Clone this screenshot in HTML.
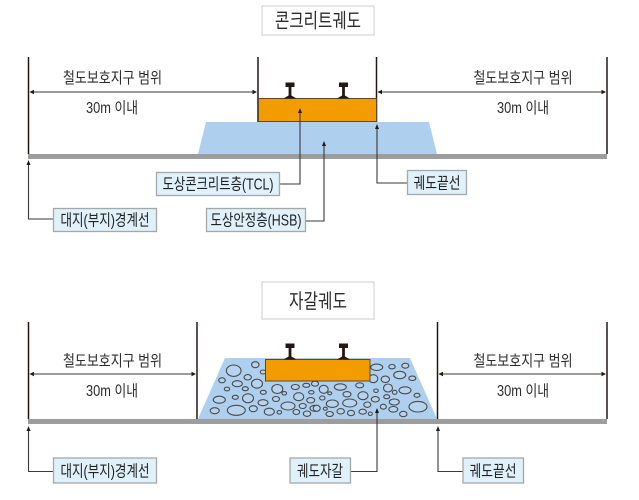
<!DOCTYPE html>
<html><head><meta charset="utf-8">
<style>
html,body{margin:0;padding:0;background:#fff;width:639px;height:500px;overflow:hidden}
svg{display:block;filter:blur(0.35px)}
text{font-family:"Liberation Sans","Noto Sans CJK KR",sans-serif;fill:#2b2b2b}
.d{font-size:15.500px;text-anchor:middle}
.l{font-size:16px;text-anchor:middle;fill:#222}
.t{font-size:20px;text-anchor:middle}
.box{fill:#e0f1fb;stroke:#a4a8a8;stroke-width:1.300}
.tb{fill:#fff;stroke:#d8d8d8;stroke-width:1.300}
.v{stroke:#231815;stroke-width:1.500}
.c{stroke:#3a3a3a;stroke-width:1.100;fill:none}
.g{fill:#9d9d9d}
.a{fill:#231815}
.s ellipse{fill:#b6d4ef;stroke:#4a4a4a;stroke-width:1.100}
</style></head><body>
<svg width="639" height="500" viewBox="0 0 639 500" xmlns="http://www.w3.org/2000/svg">
<defs>
<g id="rail"><path d="M-4.500 0H4.500V4.500H1.400V13L6.500 16H-6.500L-1.400 13V4.500H-4.500Z" fill="#231815"/></g>
</defs>

<!-- TOP -->
<rect class="tb" x="262" y="6" width="112" height="29"/>
<text class="t" x="318" y="27.500" textLength="86" lengthAdjust="spacingAndGlyphs">콘크리트궤도</text>

<rect class="g" x="28" y="154" width="579" height="5"/>
<line class="v" x1="28.500" y1="57" x2="28.500" y2="154"/>
<line class="v" x1="258" y1="57" x2="258" y2="122"/>
<line class="v" x1="376.500" y1="57" x2="376.500" y2="122"/>
<line class="v" x1="607" y1="57" x2="607" y2="154"/>

<polygon points="206,122 429,122 437,154 198,154" fill="#aecfee"/>
<rect x="258.500" y="98.500" width="118" height="23" fill="#f39c00" stroke="#5a4a2a" stroke-width="1"/>
<use href="#rail" x="290" y="82.500"/>
<use href="#rail" x="343.500" y="82.500"/>

<line class="c" x1="30" y1="92" x2="256" y2="92"/>
<line class="c" x1="378" y1="92" x2="605" y2="92"/>
<polygon class="a" points="29.500,92 34,89.800 34,94.200"/>
<polygon class="a" points="257,92 252.500,89.800 252.500,94.200"/>
<polygon class="a" points="377.500,92 382,89.800 382,94.200"/>
<polygon class="a" points="606,92 601.500,89.800 601.500,94.200"/>

<text class="d" x="112.500" y="83" textLength="99" lengthAdjust="spacingAndGlyphs">철도보호지구 범위</text>
<text class="d" x="112" y="113" textLength="52" lengthAdjust="spacingAndGlyphs">30m 이내</text>
<text class="d" x="523" y="83" textLength="99" lengthAdjust="spacingAndGlyphs">철도보호지구 범위</text>
<text class="d" x="523" y="113" textLength="52" lengthAdjust="spacingAndGlyphs">30m 이내</text>

<path class="c" d="M28.500 162V219H53"/>
<polygon class="a" points="28.500,160 26.500,165 30.500,165"/>
<path class="c" d="M280 184H300V110"/>
<polygon class="a" points="300,108 298,113 302,113"/>
<path class="c" d="M306 221H324V143"/>
<polygon class="a" points="324,141 322,146 326,146"/>
<path class="c" d="M407 183H377V126"/>
<polygon class="a" points="377,124 375,129 379,129"/>

<rect class="box" x="53.500" y="208.500" width="103" height="23"/>
<text class="l" x="105" y="225.500" textLength="89" lengthAdjust="spacingAndGlyphs">대지(부지)경계선</text>
<rect class="box" x="156.500" y="172.500" width="123" height="23"/>
<text class="l" x="218" y="189.500" textLength="111" lengthAdjust="spacingAndGlyphs">도상콘크리트층(TCL)</text>
<rect class="box" x="206.500" y="208.500" width="99" height="23"/>
<text class="l" x="256" y="225.500" textLength="91" lengthAdjust="spacingAndGlyphs">도상안정층(HSB)</text>
<rect class="box" x="407.500" y="170.500" width="59" height="24"/>
<text class="l" x="437" y="188.500" textLength="47" lengthAdjust="spacingAndGlyphs">궤도끝선</text>

<!-- BOTTOM -->
<rect class="tb" x="262" y="282" width="112" height="37"/>
<text class="t" x="318" y="308" textLength="58" lengthAdjust="spacingAndGlyphs">자갈궤도</text>

<rect class="g" x="28" y="419" width="579" height="5"/>
<line class="v" x1="28.500" y1="322" x2="28.500" y2="419"/>
<line class="v" x1="197" y1="322" x2="197" y2="419"/>
<line class="v" x1="437.500" y1="322" x2="437.500" y2="419"/>
<line class="v" x1="607" y1="322" x2="607" y2="419"/>

<polygon points="225,358 410,358 437,419 198,419" fill="#aecfee"/>
<g class="s">
<ellipse cx="233.700" cy="370.700" rx="7.300" ry="5.700"/><ellipse cx="255.300" cy="364.700" rx="3.700" ry="3"/><ellipse cx="263" cy="372" rx="2.700" ry="2"/><ellipse cx="222" cy="380.300" rx="3.300" ry="2.500"/><ellipse cx="247.700" cy="377.300" rx="3.700" ry="2.700"/><ellipse cx="237.300" cy="383.700" rx="5" ry="3"/><ellipse cx="257" cy="383.700" rx="5.500" ry="4.500"/><ellipse cx="227" cy="389" rx="2.700" ry="1.800"/><ellipse cx="245.300" cy="388.700" rx="3" ry="2"/><ellipse cx="263.300" cy="392.300" rx="3" ry="2"/><ellipse cx="277.300" cy="389" rx="5.500" ry="4.500"/><ellipse cx="284.300" cy="393.300" rx="2.300" ry="1.700"/><ellipse cx="295.300" cy="387" rx="4" ry="2.500"/><ellipse cx="306.300" cy="385.300" rx="3.500" ry="2"/><ellipse cx="315" cy="383.700" rx="3.500" ry="2.500"/><ellipse cx="219.300" cy="399.700" rx="6" ry="3.500"/><ellipse cx="235.300" cy="397.300" rx="3" ry="2"/><ellipse cx="248" cy="398.300" rx="5.500" ry="4.500"/><ellipse cx="263" cy="402.700" rx="5" ry="3"/><ellipse cx="276" cy="399" rx="3.500" ry="2.500"/><ellipse cx="298.700" cy="396.700" rx="5" ry="4"/><ellipse cx="311.300" cy="392.300" rx="2.700" ry="1.700"/><ellipse cx="310.700" cy="400.300" rx="4" ry="2.700"/><ellipse cx="288" cy="406" rx="7" ry="4"/><ellipse cx="302.700" cy="406" rx="3.500" ry="2.500"/><ellipse cx="315" cy="408.300" rx="5" ry="3"/><ellipse cx="214.700" cy="410.700" rx="4.500" ry="3"/><ellipse cx="236.300" cy="410.300" rx="9" ry="5"/><ellipse cx="253.300" cy="408.700" rx="4" ry="3"/><ellipse cx="269.300" cy="411.700" rx="5" ry="3.500"/><ellipse cx="279.300" cy="412.300" rx="2.300" ry="1.700"/><ellipse cx="296.300" cy="412" rx="3.300" ry="2.500"/><ellipse cx="307" cy="413.700" rx="3.700" ry="2.700"/>
<ellipse cx="376.700" cy="367.300" rx="6" ry="3.200"/><ellipse cx="392" cy="366.700" rx="3.200" ry="2.200"/><ellipse cx="405.300" cy="365.700" rx="3.500" ry="2.500"/><ellipse cx="373.300" cy="378.700" rx="4.500" ry="4"/><ellipse cx="385.300" cy="379.300" rx="4.200" ry="3.200"/><ellipse cx="399.700" cy="375" rx="6" ry="3.700"/><ellipse cx="412.300" cy="378.300" rx="3.500" ry="2.200"/><ellipse cx="323.700" cy="389.300" rx="4.500" ry="4"/><ellipse cx="329.700" cy="393.300" rx="2" ry="1.500"/><ellipse cx="340.300" cy="387" rx="6" ry="3.200"/><ellipse cx="359.700" cy="385.300" rx="4" ry="2.500"/><ellipse cx="347" cy="394.300" rx="4" ry="2.700"/><ellipse cx="363" cy="395.700" rx="5" ry="4"/><ellipse cx="376" cy="390.700" rx="2.300" ry="1.700"/><ellipse cx="388" cy="388" rx="4.500" ry="4"/><ellipse cx="394.700" cy="392.300" rx="2.300" ry="2"/><ellipse cx="405" cy="390.300" rx="6" ry="3.500"/><ellipse cx="417" cy="395.300" rx="3" ry="2"/><ellipse cx="322.300" cy="398" rx="2.700" ry="2"/><ellipse cx="332.300" cy="403.700" rx="6" ry="3.700"/><ellipse cx="349.700" cy="403" rx="7" ry="4"/><ellipse cx="367.300" cy="404.700" rx="3.500" ry="2.700"/><ellipse cx="375.300" cy="399.300" rx="4" ry="2.700"/><ellipse cx="386.700" cy="396.700" rx="3" ry="2"/><ellipse cx="394.300" cy="402" rx="5" ry="3"/><ellipse cx="383.300" cy="406.700" rx="3" ry="2.500"/><ellipse cx="418" cy="406.700" rx="9" ry="5.300"/><ellipse cx="316.700" cy="408.300" rx="3.500" ry="3"/><ellipse cx="325.300" cy="408.700" rx="2" ry="1.500"/><ellipse cx="329.700" cy="414" rx="3.700" ry="2.500"/><ellipse cx="340.700" cy="411.300" rx="3.700" ry="2.700"/><ellipse cx="351" cy="413" rx="3.500" ry="2.700"/><ellipse cx="362.700" cy="411.700" rx="3.700" ry="2.500"/><ellipse cx="370.300" cy="413.700" rx="2" ry="1.700"/><ellipse cx="393.300" cy="409.300" rx="4.500" ry="2.800"/><ellipse cx="403.300" cy="414" rx="3.700" ry="2.700"/>
</g>
<rect x="265.500" y="359.500" width="104.500" height="21.500" fill="#f39c00" stroke="#5a4a2a" stroke-width="1"/>
<use href="#rail" x="290" y="343.500"/>
<use href="#rail" x="343.500" y="343.500"/>

<line class="c" x1="30" y1="374" x2="195" y2="374"/>
<line class="c" x1="439" y1="374" x2="605" y2="374"/>
<polygon class="a" points="29.500,374 34,371.800 34,376.200"/>
<polygon class="a" points="196,374 191.500,371.800 191.500,376.200"/>
<polygon class="a" points="438.500,374 443,371.800 443,376.200"/>
<polygon class="a" points="606,374 601.500,371.800 601.500,376.200"/>

<text class="d" x="112.500" y="366" textLength="99" lengthAdjust="spacingAndGlyphs">철도보호지구 범위</text>
<text class="d" x="112" y="396" textLength="52" lengthAdjust="spacingAndGlyphs">30m 이내</text>
<text class="d" x="523" y="366" textLength="99" lengthAdjust="spacingAndGlyphs">철도보호지구 범위</text>
<text class="d" x="523" y="396" textLength="52" lengthAdjust="spacingAndGlyphs">30m 이내</text>

<path class="c" d="M28.500 428V471.500H53"/>
<polygon class="a" points="28.500,426 26.500,431 30.500,431"/>
<path class="c" d="M347 471.500H377V410"/>
<polygon class="a" points="377,408 375,413 379,413"/>
<path class="c" d="M463 471.500H438V428"/>
<polygon class="a" points="438,426 436,431 440,431"/>

<rect class="box" x="53.500" y="458" width="103" height="25"/>
<text class="l" x="105" y="476.500" textLength="89" lengthAdjust="spacingAndGlyphs">대지(부지)경계선</text>
<rect class="box" x="290" y="458" width="60.500" height="25"/>
<text class="l" x="320" y="476.500" textLength="46" lengthAdjust="spacingAndGlyphs">궤도자갈</text>
<rect class="box" x="463" y="458" width="60.500" height="25"/>
<text class="l" x="493" y="476.500" textLength="47" lengthAdjust="spacingAndGlyphs">궤도끝선</text>
</svg>
</body></html>
